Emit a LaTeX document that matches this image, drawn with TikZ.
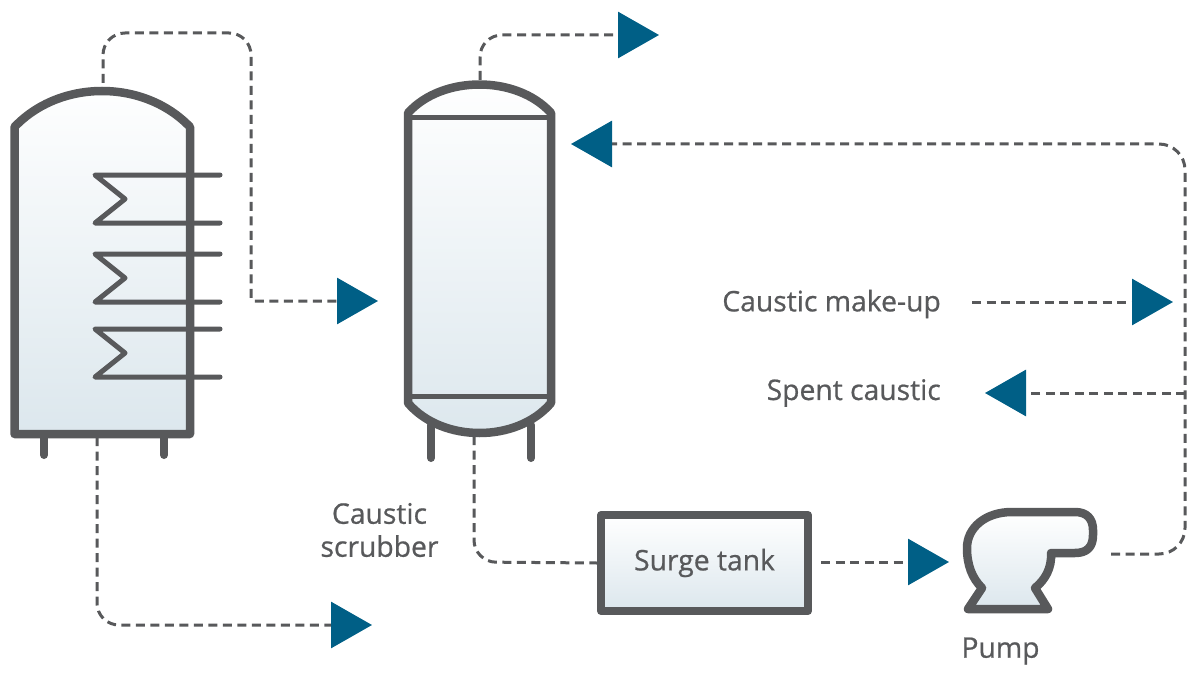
\documentclass[tikz,border=0pt]{standalone}
\usepackage{fontspec}
\setmainfont{Open Sans}[FakeBold=0.7]
\usepackage{tikz}
\usetikzlibrary{arrows.meta}
\definecolor{steelgrey}{HTML}{58595B}
\definecolor{flowblue}{HTML}{005F86}
\definecolor{fillblue}{HTML}{DCE7ED}
\tikzset{x=1pt, y=-1pt,
  vessel/.style={draw=steelgrey, line width=8.5pt, line join=round, top color=white, bottom color=fillblue},
  wall/.style={draw=steelgrey, line width=5pt, line cap=round, line join=round},
  leg/.style={draw=steelgrey, line width=8pt, line cap=round},
  flow/.style={draw=steelgrey, line width=3pt, dash pattern=on 9pt off 5.5pt, rounded corners=22pt},
  head/.style={flow, -{Triangle[length=41pt, width=46pt, color=flowblue]}},
  label/.style={text=steelgrey, font=\fontsize{28.3}{33}\selectfont, inner sep=0pt}}

\begin{document}
\begin{tikzpicture}
             \useasboundingbox (0,0) rectangle (1199,674);

             \draw [leg] (44,436) -- (44,455);
             \draw [leg] (164,436) -- (164,455);
             \draw [vessel] (14.5,127) .. controls (60,79) and (144,79) .. (190,127)
                   -- (190,434) -- (14.5,434) -- cycle;
             \draw [wall] (220,175) -- (95,175) -- (125,199) -- (95,223) -- (220,223);
             \draw [wall] (220,254) -- (95,254) -- (125,278) -- (95,302) -- (220,302);
             \draw [wall] (220,329) -- (95,329) -- (125,353) -- (95,377) -- (220,377);

             \draw [leg] (431,425) -- (431,458);
             \draw [leg] (531,425) -- (531,458);
             \draw [vessel] (408,113) .. controls (442,75) and (517,75) .. (551,113)
                   -- (551,403) .. controls (517,443) and (442,443) .. (408,403) -- cycle;
             \draw [wall, line cap=butt] (408,118) -- (551,118);
             \draw [wall, line cap=butt] (408,396) -- (551,396);

             \node (Tank) [vessel, line width=8pt, minimum width=207pt, minimum height=96pt, label, draw=steelgrey] at (704.5,563) {Surge tank};

             \draw [vessel] (982,588) .. controls (972,578) and (967,565) .. (967,548)
                   .. controls (967,528) and (985,512) .. (1012,512) -- (1075,512)
                   .. controls (1087,512) and (1093,519) .. (1093,530) -- (1093,535)
                   .. controls (1093,547) and (1087,553) .. (1075,553) -- (1051,553)
                   .. controls (1052,568) and (1045,580) .. (1035,588)
                   -- (1048,609) -- (968,609) -- cycle;

             \node (Make) [label, anchor=east] at (941,304) {Caustic make-up};
             \node (Spent) [label, anchor=east] at (941,393) {Spent caustic};
             \node (Scrubber) [label, align=center] at (379.5,530) {Caustic\\scrubber};
             \node (Pump) [label] at (1000.5,651) {Pump};

             \coordinate (ReactorTop) at (103,83);
             \coordinate (ReactorOut) at (378,301);
             \coordinate (ReactorBottom) at (97,437);
             \coordinate (DrainOut) at (372,625);
             \coordinate (ScrubberTop) at (480,80);
             \coordinate (VentOut) at (659,35);
             \coordinate (ScrubberBottom) at (474,436);
             \coordinate (TankOut) at (821,562);
             \coordinate (PumpIn) at (949,562);
             \coordinate (PumpOut) at (1111,554);
             \coordinate (ReturnIn) at (571,144);
             \coordinate (MakeIn) at (1173,302);
             \coordinate (Branch) at (1185,393);
             \coordinate (SpentOut) at (985,393);

             \draw [head] (ReactorTop) -- (103,33) -- (251,33) [rounded corners=3pt] -- (251,301) -- (ReactorOut);
             \draw [head] (ReactorBottom) -- (97,625) -- (DrainOut);
             \draw [head] (ScrubberTop) -- (480,35) -- (VentOut);
             \draw [flow] (ScrubberBottom) -- (474,562) -- (Tank.west);
             \draw [head] (TankOut) -- (PumpIn);
             \draw [head, rounded corners=26pt] (PumpOut) -- (1185,554) -- (1185,144) -- (ReturnIn);
             \draw [head] (972,302) -- (MakeIn);
             \draw [head] (Branch) -- (SpentOut);
\end{tikzpicture}
\end{document}
